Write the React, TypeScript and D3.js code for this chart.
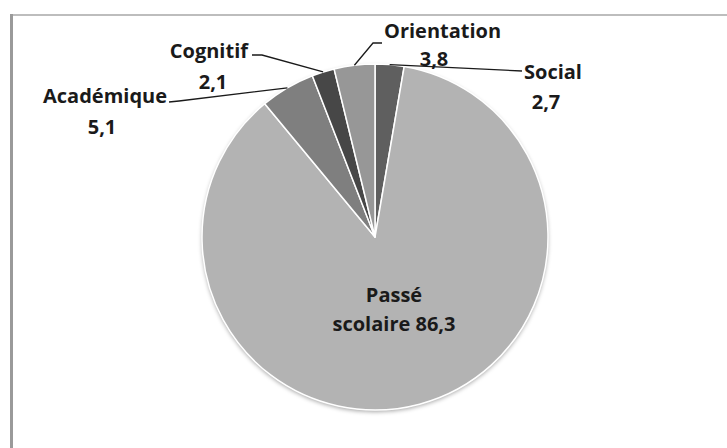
import React, { useEffect, useRef } from "react";
import * as d3 from "d3";

// --- Data ---
const categories = ["Social", "Passé scolaire", "Académique", "Cognitif", "Orientation"];
const values = [2.7, 86.3, 5.1, 2.1, 3.8];
const colors = ["#5f5f5f", "#b3b3b3", "#7f7f7f", "#474747", "#979797"];

const fmt = (v: number) => String(v).replace(".", ",");

const App = () => {
  const svgRef = useRef<SVGSVGElement | null>(null);

  useEffect(() => {
    const width = 727;
    const height = 448;
    const cx = 375;
    const cy = 237;
    const r = 173;

    const root = d3.select(svgRef.current);
    root.selectAll("*").remove();
    root.attr("width", width).attr("height", height).attr("viewBox", `0 0 ${width} ${height}`);

    // frame (top + left only visible)
    root.append("rect").attr("x", 0).attr("y", 0).attr("width", width).attr("height", height).attr("fill", "#fff");
    root.append("line").attr("x1", 10).attr("x2", width).attr("y1", 15).attr("y2", 15)
      .attr("stroke", "#bdbdbd").attr("stroke-width", 2);
    root.append("line").attr("x1", 11.5).attr("x2", 11.5).attr("y1", 14).attr("y2", height)
      .attr("stroke", "#9a9a9a").attr("stroke-width", 3);

    const defs = root.append("defs");
    const filter = defs.append("filter").attr("id", "shadow")
      .attr("x", "-10%").attr("y", "-10%").attr("width", "120%").attr("height", "120%");
    filter.append("feDropShadow").attr("dx", 0).attr("dy", 2).attr("stdDeviation", 2)
      .attr("flood-color", "#000").attr("flood-opacity", 0.35);

    const data = categories.map((name, i) => ({ name, value: values[i], color: colors[i] }));
    const pie = d3.pie<any>().value((d) => d.value).sort(null);
    const arcs = pie(data);
    const arc = d3.arc<any>().innerRadius(0).outerRadius(r);
    const edge = d3.arc<any>().innerRadius(r).outerRadius(r);

    const g = root.append("g").attr("transform", `translate(${cx},${cy})`);
    g.append("circle").attr("r", r).attr("fill", "#b3b3b3").attr("filter", "url(#shadow)");
    g.selectAll("path.slice")
      .data(arcs)
      .join("path")
      .attr("class", "slice")
      .attr("d", arc)
      .attr("fill", (d) => d.data.color)
      .attr("stroke", "#fff")
      .attr("stroke-width", 1.5)
      .attr("stroke-linejoin", "round");

    // --- Labels ---
    const font = "'Open Sans', 'DejaVu Sans', sans-serif";
    const fontSize = "20px";
    const labelCfg: Record<string, any> = {
      Social: { lines: [["Social", 524, 79, "start"], ["2,7", 546, 109, "middle"]], path: [[522, 71]] },
      Orientation: { lines: [["Orientation", 384, 38, "start"], ["3,8", 434, 66, "middle"]], path: [[373, 43], [382, 43]] },
      Cognitif: { lines: [["Cognitif", 248, 58, "end"], ["2,1", 213, 89, "middle"]], path: [[262, 55], [252, 55]] },
      "Académique": { lines: [["Académique", 167, 103, "end"], ["5,1", 102, 134, "middle"]], path: [[179, 101], [169, 102]] },
    };

    arcs.forEach((a) => {
      const cfg = labelCfg[a.data.name];
      if (!cfg) return;
      const [px, py] = edge.centroid(a);
      const pts = [[px + cx, py + cy], ...cfg.path];
      root.append("path")
        .attr("d", d3.line()(pts as [number, number][]))
        .attr("fill", "none")
        .attr("stroke", "#1a1a1a")
        .attr("stroke-width", 1.3);
      cfg.lines.forEach(([t, x, y, anchor]: any) => {
        root.append("text")
          .attr("x", x).attr("y", y)
          .attr("text-anchor", anchor)
          .style("font-family", font)
          .style("font-size", fontSize)
          .style("font-weight", "bold")
          .style("fill", "#1a1a1a")
          .text(t);
      });
    });

    // main slice label
    const big = arcs[1];
    root.append("text").attr("x", 394).attr("y", 302).attr("text-anchor", "middle")
      .style("font-family", font).style("font-size", fontSize).style("font-weight", "bold").style("fill", "#1a1a1a")
      .text("Passé");
    root.append("text").attr("x", 394).attr("y", 331).attr("text-anchor", "middle")
      .style("font-family", font).style("font-size", fontSize).style("font-weight", "bold").style("fill", "#1a1a1a")
      .text("scolaire " + fmt(big.data.value));
  }, []);

  return (
    <div style={{ position: "absolute", left: 0, top: 0 }}>
      <svg ref={svgRef} style={{ display: "block" }}></svg>
    </div>
  );
};

export default App;
